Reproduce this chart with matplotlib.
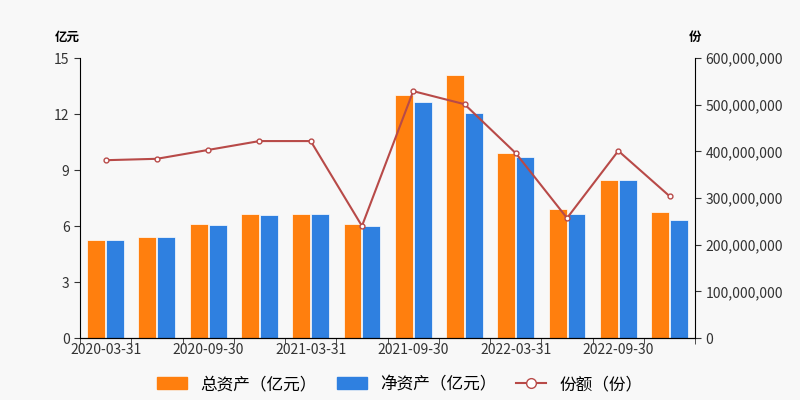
import matplotlib
matplotlib.use("Agg")
import matplotlib.pyplot as plt
import numpy as np
from matplotlib.lines import Line2D
from matplotlib.patches import Patch

plt.rcParams['font.family'] = ['Noto Sans CJK SC', 'DejaVu Sans']

dates = ["2020-03-31","2020-06-30","2020-09-30","2020-12-31","2021-03-31","2021-06-30",
         "2021-09-30","2021-12-31","2022-03-31","2022-06-30","2022-09-30","2022-12-31"]
total_assets = [5.25, 5.4, 6.1, 6.65, 6.65, 6.1, 13.0, 14.1, 9.9, 6.9, 8.45, 6.75]
net_assets = [5.25, 5.4, 6.05, 6.6, 6.65, 6.0, 12.65, 12.05, 9.7, 6.65, 8.45, 6.3]
shares = [381e6, 384e6, 403e6, 422e6, 422e6, 240e6, 529e6, 501e6, 396e6, 257e6, 401e6, 304e6]

bg = '#f8f8f8'
c1, c2, c3 = '#ff7f0e', '#2f80e0', '#b84a48'
fig = plt.figure(figsize=(8, 4), dpi=100, facecolor=bg)
ax = fig.add_axes([0.1, 0.155, 0.769, 0.70], facecolor=bg)
x = np.arange(len(dates))
w = 0.35
ax.bar(x - w/2 - 0.01, total_assets, w, color=c1, edgecolor='white', linewidth=0.5)
ax.bar(x + w/2 + 0.01, net_assets, w, color=c2, edgecolor='white', linewidth=0.5)
ax.set_xlim(-0.5, len(dates) - 0.5)
ax.set_ylim(0, 15)
ax.set_yticks([0, 3, 6, 9, 12, 15])
ax.set_xticks(x[::2])
ax.set_xticklabels(dates[::2])
ax.set_xticks(np.arange(-0.5, len(dates)), minor=True)
ax.tick_params(axis='x', which='major', length=0, labelsize=10, colors='#333')
ax.tick_params(axis='x', which='minor', length=4, color='#333')
ax.tick_params(axis='y', labelsize=10, colors='#333', length=4)
for s in ['top', 'right']:
    ax.spines[s].set_visible(False)
ax.text(-0.02, 1.06, '亿元', transform=ax.transAxes, fontsize=9, fontweight='bold', ha='center')

ax2 = ax.twinx()
ax2.plot(x, shares, color=c3, lw=1.5, marker='o', ms=3.5, mfc='white', mec=c3)
ax2.set_ylim(0, 600e6)
ax2.set_yticks(np.arange(0, 600e6 + 1, 100e6))
ax2.set_yticklabels([f'{int(v):,}' for v in np.arange(0, 600e6 + 1, 100e6)])
ax2.tick_params(axis='y', labelsize=10, colors='#333', length=4)
for s in ['top', 'left']:
    ax2.spines[s].set_visible(False)
ax2.text(1.0, 1.06, '份', transform=ax.transAxes, fontsize=9, fontweight='bold', ha='center')

handles = [Patch(color=c1), Patch(color=c2),
           Line2D([], [], color=c3, marker='o', mfc='white', mec=c3, ms=7)]
fig.legend(handles, ['总资产（亿元）', '净资产（亿元）', '份额（份）'], loc='lower center',
           ncol=3, frameon=False, fontsize=12, bbox_to_anchor=(0.5, -0.02),
           handlelength=1.8, columnspacing=1.2)
fig.savefig('out.png', dpi=100, facecolor=bg)
